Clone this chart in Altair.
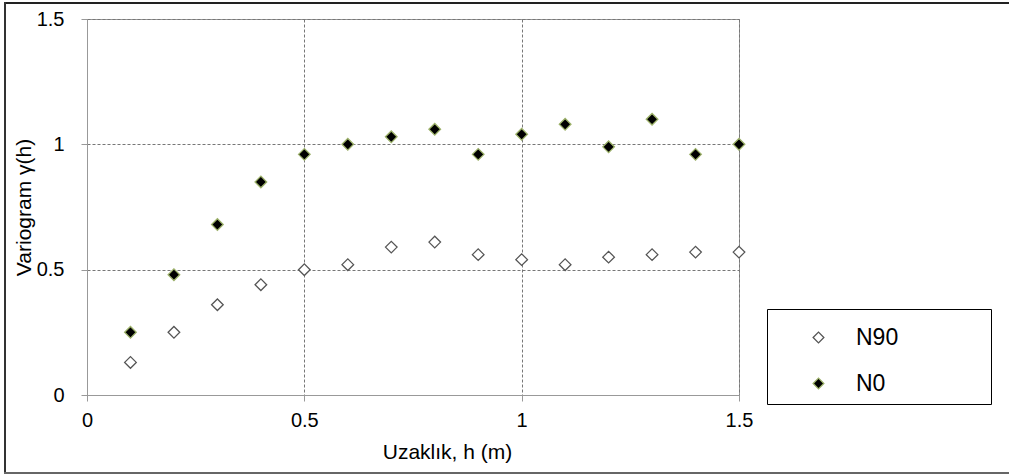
import altair as alt
import pandas as pd

h = [0.1, 0.2, 0.3, 0.4, 0.5, 0.6, 0.7, 0.8, 0.9, 1.0, 1.1, 1.2, 1.3, 1.4, 1.5]
n90 = [0.13, 0.25, 0.36, 0.44, 0.50, 0.52, 0.59, 0.61, 0.56, 0.54, 0.52, 0.55, 0.56, 0.57, 0.57]
n0 = [0.25, 0.48, 0.68, 0.85, 0.96, 1.00, 1.03, 1.06, 0.96, 1.04, 1.08, 0.99, 1.10, 0.96, 1.00]
series_names = ["N90", "N0"]
x_ticks = [0, 0.5, 1, 1.5]
y_ticks = [0, 0.5, 1, 1.5]

rows = []
for name, vals in zip(series_names, [n90, n0]):
    for xv, yv in zip(h, vals):
        rows.append({"h": xv, "gamma": yv, "series": name})
df = pd.DataFrame(rows)

FONT = "Liberation Sans"

points = alt.Chart(df).mark_point(
    shape="diamond", filled=True, size=135, strokeWidth=1.3, opacity=1
).encode(
    x=alt.X("h:Q", scale=alt.Scale(domain=[0, 1.5], nice=False),
            axis=alt.Axis(values=x_ticks, title="Uzaklık,  h (m)", format="~g",
                          labelFlush=False, titleX=360, titleY=46)),
    y=alt.Y("gamma:Q", scale=alt.Scale(domain=[0, 1.5], nice=False),
            axis=alt.Axis(values=y_ticks, title="Variogram  γ(h)", format="~g",
                          labelFlush=False, titleX=-53)),
    fill=alt.Fill("series:N", scale=alt.Scale(domain=series_names, range=["#ffffff", "#000000"]),
                  legend=alt.Legend(title=None)),
    stroke=alt.Stroke("series:N", scale=alt.Scale(domain=series_names, range=["#555555", "#9db26a"]),
                      legend=alt.Legend(title=None)),
    order=alt.Order("series:N", sort="descending"),
)

deco = pd.DataFrame({"d": [0]})
frame_top = alt.Chart(deco).mark_rule(stroke="#222222", strokeWidth=2, clip=False).encode(
    x=alt.value(-82), x2=alt.value(930), y=alt.value(-16)
)
frame_left = alt.Chart(deco).mark_rule(stroke="#333333", strokeWidth=2, clip=False).encode(
    x=alt.value(-82), y=alt.value(-17), y2=alt.value(455)
)
frame_bottom = alt.Chart(deco).mark_rule(stroke="#666666", strokeWidth=2, clip=False).encode(
    x=alt.value(-83), x2=alt.value(930), y=alt.value(454)
)
legend_box = alt.Chart(deco).mark_rect(
    fill="#ffffff", stroke="#000000", strokeWidth=1, clip=False
).encode(
    x=alt.value(680.5), x2=alt.value(904.5), y=alt.value(290.5), y2=alt.value(385.5)
)

chart = alt.layer(frame_top, frame_left, frame_bottom, legend_box, points).properties(
    width=652, height=376,
    autosize=alt.AutoSizeParams(type="none"),
    padding={"left": 87, "top": 19, "right": 270, "bottom": 79},
    background="white",
).configure_view(
    stroke="#999999", strokeWidth=1
).configure_axis(
    labelFont=FONT, titleFont=FONT, labelFontSize=20, titleFontSize=21,
    labelColor="#000000", titleColor="#000000", titleFontWeight="normal",
    domainColor="#999999", tickColor="#999999", tickSize=6,
    gridColor="#777777", gridDash=[3, 2], gridWidth=1,
    labelPadding=9,
).configure_axisY(
    labelPadding=17,
).configure_legend(
    orient="none", legendX=680, legendY=291,
    padding=16, symbolOffset=24, labelOffset=26, rowPadding=22,
    labelFont=FONT, labelFontSize=23, labelColor="#000000",
    symbolType="diamond", symbolSize=115, symbolStrokeWidth=1.3,
)

chart.save("out.html", embed_options={"renderer": "svg", "actions": False})
